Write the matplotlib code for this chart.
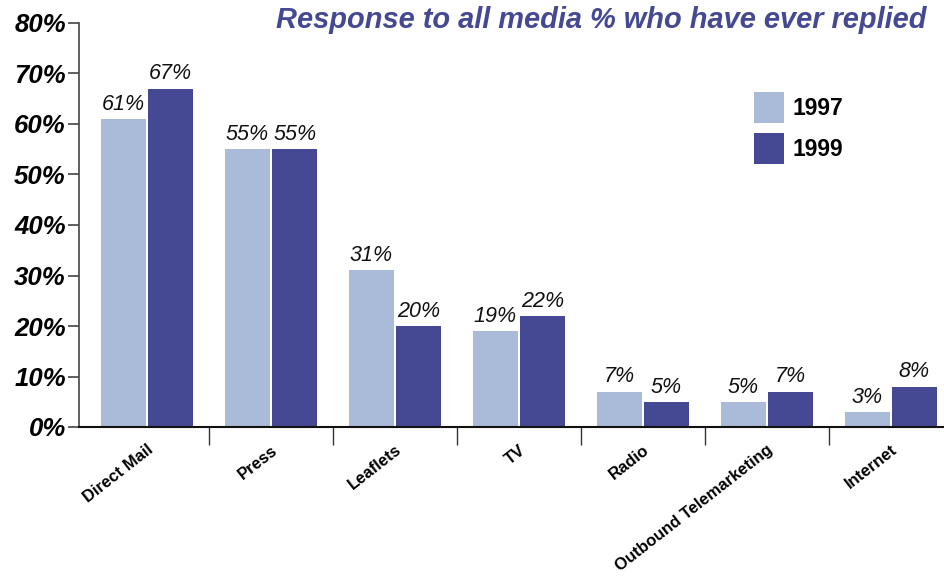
import matplotlib
matplotlib.use("Agg")
import matplotlib.pyplot as plt
from matplotlib.patches import Patch
import numpy as np

categories = ["Direct Mail", "Press", "Leaflets", "TV", "Radio", "Outbound Telemarketing", "Internet"]
values_1997 = [61, 55, 31, 19, 7, 5, 3]
values_1999 = [67, 55, 20, 22, 5, 7, 8]
series_names = ["1997", "1999"]
yticks = [0, 10, 20, 30, 40, 50, 60, 70, 80]
ytick_labels = ["0%", "10%", "20%", "30%", "40%", "50%", "60%", "70%", "80%"]
title = "Response to all media % who have ever replied"

light = "#aabbd9"
dark = "#454893"
font = "Liberation Sans"

fig = plt.figure(figsize=(9.44, 5.76), dpi=100)
ax = fig.add_axes([79/944, 1-427/576, 1-79/944, (427-23)/576])

x = np.arange(len(categories))
w = 0.363
off = 0.19
b1 = ax.bar(x - off, values_1997, width=w, color=light, label=series_names[0])
b2 = ax.bar(x + off, values_1999, width=w, color=dark, label=series_names[1])

for bars, vals in ((b1, values_1997), (b2, values_1999)):
    for r, v in zip(bars, vals):
        ax.annotate(f"{v}%", (r.get_x() + r.get_width()/2, v), xytext=(0, 3),
                    textcoords="offset points", ha="center", va="bottom",
                    fontsize=15.5, style="italic", family=font, color="#111111")

ax.set_xlim(-0.55, 6.43)
ax.set_ylim(0, 80)
ax.set_yticks(yticks)
ax.set_yticklabels(ytick_labels, fontsize=18.5, fontweight="bold", style="italic", family=font)
ax.tick_params(axis="y", length=8, width=1.2, color="#444444", pad=1.5)

ax.set_xticks(x)
ax.set_xticklabels(categories, rotation=38, ha="right", va="top", rotation_mode="anchor",
                   fontsize=12, fontweight="bold", family=font)
ax.tick_params(axis="x", which="major", length=0, pad=11)
ax.set_xticks(np.arange(len(categories) - 1) + 0.5, minor=True)
ax.tick_params(axis="x", which="minor", length=13, width=1.0, color="#333333")

for s in ("top", "right"):
    ax.spines[s].set_visible(False)
ax.spines["left"].set_color("#444444")
ax.spines["left"].set_linewidth(1.2)
ax.spines["bottom"].set_color("#111111")
ax.spines["bottom"].set_linewidth(1.5)

fig.text(926/944, 1-20/576, title, ha="right", va="center", fontsize=20.9,
         fontweight="bold", style="italic", family=font, color=dark)

handles = [Patch(facecolor=light), Patch(facecolor=dark)]
leg = ax.legend(handles, series_names, loc="upper left", bbox_to_anchor=(0.757, 0.88),
                frameon=False, prop={"family": font, "weight": "bold", "size": 16.5},
                handlelength=1.3, handleheight=1.7, handletextpad=0.35, labelspacing=0.45)

fig.savefig("out.png", dpi=100)
